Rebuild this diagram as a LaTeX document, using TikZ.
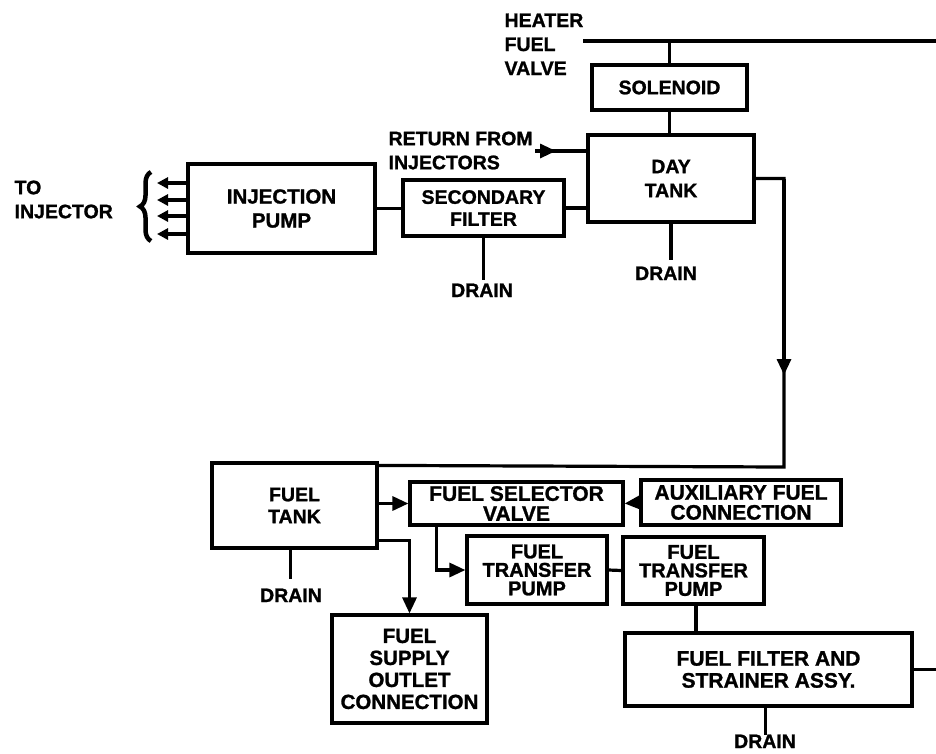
\documentclass[tikz,border=0pt]{standalone}
\usepackage{fontspec}
\setmainfont{Liberation Sans}[BoldFeatures={FakeBold=1.2}]
\usetikzlibrary{arrows.meta,decorations.pathreplacing}
\begin{document}
\begin{tikzpicture}[x=1pt,y=-1pt,
  line width=3.2pt,
  box/.style={draw, line width=3.2pt, inner sep=0pt, align=center, font=\bfseries\fontsize{19.5}{22}\selectfont},
  bigbox/.style={box, font=\bfseries\fontsize{21}{20}\selectfont},
  tightbox/.style={box, font=\bfseries\fontsize{20}{18.5}\selectfont},
  lbl/.style={inner sep=0pt, align=left, font=\bfseries\fontsize{19.5}{24}\selectfont},
  tip/.style={-{Triangle[length=16pt,width=14pt]}},
  smalltip/.style={-{Triangle[length=11pt,width=11pt]}},
]
\useasboundingbox (0,0) rectangle (936,753);

% boxes
\node[box, minimum width=155pt, minimum height=45pt] (solenoid) at (669.5,87.5) {SOLENOID};
\node[box, minimum width=166pt, minimum height=87pt, font=\bfseries\fontsize{19.5}{24}\selectfont] (daytank) at (671,178.5) {DAY\\TANK};
\node[box, minimum width=161pt, minimum height=56pt] (secfilter) at (483.5,208) {SECONDARY\\FILTER};
\node[box, minimum width=187pt, minimum height=89pt, font=\bfseries\fontsize{20.5}{24}\selectfont] (injpump) at (281.5,208.5) {INJECTION\\PUMP};
\node[box, minimum width=165pt, minimum height=85pt] (fueltank) at (294.5,505.5) {FUEL\\TANK};
\node[bigbox, minimum width=213pt, minimum height=43pt] (selector) at (516.5,503.5) {FUEL SELECTOR\\VALVE};
\node[bigbox, minimum width=200pt, minimum height=45pt] (aux) at (741,502.5) {AUXILIARY FUEL\\CONNECTION};
\node[tightbox, minimum width=140pt, minimum height=68pt] (pump1) at (537,570) {FUEL\\TRANSFER\\PUMP};
\node[tightbox, minimum width=141pt, minimum height=67pt] (pump2) at (693.5,570.5) {FUEL\\TRANSFER\\PUMP};
\node[box, minimum width=155pt, minimum height=108pt, font=\bfseries\fontsize{20.5}{22}\selectfont] (outlet) at (409.5,669) {FUEL\\SUPPLY\\OUTLET\\CONNECTION};
\node[box, minimum width=287pt, minimum height=73pt, font=\bfseries\fontsize{21}{22}\selectfont] (filter) at (768.5,669.5) {FUEL FILTER AND\\STRAINER ASSY.};

% labels
\node[lbl, anchor=north west] (heater) at (503,12) {HEATER\\FUEL\\VALVE};
\node[lbl, anchor=north west] (retlbl) at (387,130) {RETURN FROM\\INJECTORS};
\node[lbl, anchor=north west] (tolbl) at (13,179) {TO\\INJECTOR};
\node[lbl, anchor=north] (drain1) at (482,282) {DRAIN};
\node[lbl, anchor=north] (drain2) at (666,265) {DRAIN};
\node[lbl, anchor=north] (drain3) at (291,587) {DRAIN};
\node[lbl, anchor=north] (drain4) at (765,733) {DRAIN};

% coordinates
\coordinate (hl) at (583,41);
\coordinate (hr) at (936,41);
\coordinate (ret) at (535,151);
\coordinate (c1) at (784,178.5);
\coordinate (c2) at (784,467);
\coordinate (c3) at (784,375);
\coordinate (fr) at (936,669.5);
\foreach \i/\y in {1/183,2/200,3/216,4/234}{
  \coordinate (inj\i) at (157,\y);
}

% heater line
\draw (hl) -- (hr);
\draw (solenoid.north |- hl) -- (solenoid.north);
\draw (solenoid.south) -- (solenoid.south |- daytank.north);

% return from injectors
\draw (ret) -- (ret -| daytank.west);
\draw[tip] (ret) -- ++(21,0);

% filter chain
\draw (secfilter.east) -- (secfilter.east -| daytank.west);
\draw (injpump.east) -- (injpump.east -| secfilter.west);
\foreach \i in {1,...,4}{
  \draw[smalltip] (injpump.west |- inj\i) -- (inj\i);
}
\draw[line width=4.5pt, decorate, decoration={brace, amplitude=11pt}] (151,241) -- (151,172);

% drains
\draw (daytank.south) -- ++(0,36);
\draw (secfilter.south) -- ++(0,42);
\draw ([xshift=-4pt]fueltank.south) -- ++(0,29);
\draw ([xshift=-3pt]filter.south) -- ++(0,27);

% day tank to fuel tank
\draw (daytank.east) -- (c1) -- (c2) -- ([yshift=-4pt]fueltank.north east);
\draw[tip] (c1) -- (c3);

% lower section
\draw[tip] (fueltank.east |- selector.west) -- (selector.west);
\draw[tip] (aux.west) -- (selector.east);
\draw[tip] ([xshift=-80pt]selector.south) |- (pump1.west);
\draw (pump1.east) -- (pump2.west);
\draw ([xshift=2.5pt]pump2.south) -- ([xshift=2.5pt]pump2.south |- filter.north);
\draw (filter.east) -- (fr);
\draw[tip] ([yshift=-35pt]fueltank.east) -| (outlet.north);
\end{tikzpicture}
\end{document}
